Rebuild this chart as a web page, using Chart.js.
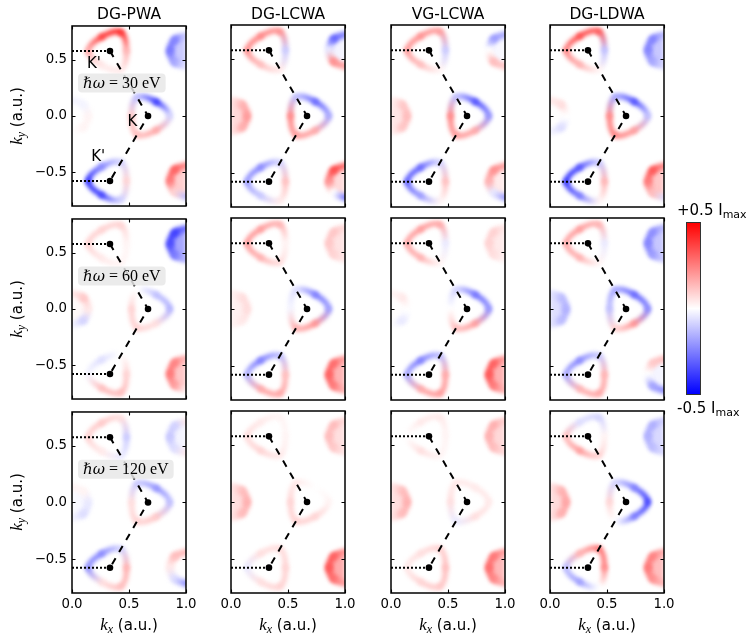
<!DOCTYPE html>
<html>
<head>
<meta charset="utf-8">
<script src="https://cdn.jsdelivr.net/npm/chart.js@4.4.1/dist/chart.umd.min.js"></script>
<style>
  body { margin: 0; background: #fff; }
  #wrap { position: relative; width: 747px; height: 642px; overflow: hidden; font-family: 'DejaVu Sans', sans-serif; color: #000; }
  #wrap canvas { position: absolute; }
  .title { position: absolute; width: 160px; text-align: center; font-size: 15.5px; line-height: 20px; }
  .xlab, .ylab { position: absolute; width: 130px; text-align: center; font-size: 15px; line-height: 20px; white-space: nowrap; }
  .ylab { transform: rotate(-90deg); }
  .xlab i, .ylab i { font-family: 'Liberation Serif', serif; font-size: 17px; }
  .xlab sub, .ylab sub { font-family: 'Liberation Serif', serif; font-style: italic; font-size: 12px; vertical-align: -3px; line-height: 0; }
  #cbar { position: absolute; left: 686px; top: 222px; width: 13px; height: 171px; border: 1px solid #333;
          background: linear-gradient(to bottom, #ff0000, #ffffff, #0000ff); }
  .cblab { position: absolute; left: 677px; font-size: 15px; line-height: 20px; white-space: nowrap; }
  .cblab sub { font-size: 11px; vertical-align: -3px; line-height: 0; }
  .warm { position: absolute; left: -999px; top: 0; }
</style>
</head>
<body>
<div id="wrap"></div>
<span class="warm" style="font: italic 15px 'DejaVu Serif'">ℏω</span>
<span class="warm" style="font: 16px 'Liberation Serif'">= 30 eV</span>
<script>
// ---- data ----
const methods = ['DG-PWA', 'DG-LCWA', 'VG-LCWA', 'DG-LDWA'];
const photonEnergies = [30, 60, 120];
const xTicks = [0, 0.5, 1];
const yTicks = [-0.5, 0, 0.5];

// K' - K - K' path and the dotted guides
const kPath = [[0.333, 0.577], [0.667, 0], [0.333, -0.577]];
const topGuide = [[0, 0.577], [0.333, 0.577]];
const botGuide = [[0, -0.577], [0.333, -0.577]];
const valleyLabels = ["K'", 'K', "K'"];
const valleyLabelPos = [[0.193, 0.459], [0.53, -0.05], [0.23, -0.365]];
const energyBoxAt = [0.053, 0.294];

// contour shapes (kx, ky): trigonal contours round K', K, K' and arcs round the zone centres
const kpTopShape = [[0.143, 0.577], [0.261, 0.703], [0.428, 0.742], [0.478, 0.577], [0.428, 0.413], [0.261, 0.451]];
const kShape = [[0.857, 0], [0.739, 0.126], [0.572, 0.165], [0.522, 0], [0.572, -0.165], [0.739, -0.126]];
const kpBotShape = [[0.143, -0.577], [0.261, -0.451], [0.428, -0.413], [0.478, -0.577], [0.428, -0.742], [0.261, -0.703]];
const g0Shape = [[0, -0.14], [0.099, -0.099], [0.14, 0], [0.099, 0.099], [0, 0.14]];
const g1Shape = [[1, 0.717], [0.901, 0.676], [0.86, 0.577], [0.901, 0.478], [1, 0.437]];
const g2Shape = [[1, -0.437], [0.901, -0.478], [0.86, -0.577], [0.901, -0.676], [1, -0.717]];

// signed intensity along each contour, in units of 0.5 Imax, [row][column][point]
const kpTopI = [
  [[0.4, 0.85, 0.95, 0.35, 0.1, 0.1], [0.5, 0.55, 0.5, -0.25, 0.1, 0.3], [0.45, 0.5, 0.45, -0.25, 0.05, 0.3], [0.55, 0.8, 0.75, -0.3, 0.05, 0.35]],
  [[0.2, 0.2, 0.2, 0.05, 0.05, 0.1], [0.45, 0.45, 0.35, 0.05, 0.15, 0.35], [0.4, 0.45, 0.4, -0.1, 0.05, 0.35], [0.4, 0.45, 0.35, -0.1, 0.05, 0.35]],
  [[0.2, 0.25, 0.15, -0.25, -0.1, 0.1], [0.15, 0.1, 0.05, 0.05, 0.1, 0.2], [0.0, 0.1, 0.1, 0.05, 0.05, 0.15], [0.3, -0.15, -0.2, 0.05, 0.2, 0.45]]
];
const kI = [
  [[-0.2, -0.9, -0.3, 0.25, 0.3, 0.4], [-0.4, -0.7, -0.3, 0.55, 0.45, 0.4], [-0.5, -0.8, -0.3, 0.55, 0.45, 0.4], [-0.3, -0.8, -0.4, 0.55, 0.55, 0.45]],
  [[-0.35, -0.3, 0.0, 0.2, 0.2, 0.15], [-0.45, -0.6, -0.15, -0.05, 0.35, 0.5], [-0.5, -0.65, -0.2, 0.0, 0.3, 0.45], [-0.55, -0.7, -0.4, -0.3, 0.2, 0.5]],
  [[-0.3, -0.5, -0.25, 0.15, 0.2, 0.25], [0.05, 0.0, 0.1, 0.2, 0.2, 0.2], [0.1, 0.1, 0.1, 0.15, -0.1, 0.15], [-0.85, -0.6, -0.2, 0.2, 0.0, -0.6]]
];
const kpBotI = [
  [[-0.9, -0.55, -0.2, 0.2, -0.2, -0.85], [-0.45, -0.55, -0.2, 0.3, 0.1, -0.25], [-0.7, -0.7, -0.2, 0.3, 0.05, -0.45], [-0.9, -0.8, -0.25, 0.35, 0.05, -0.6]],
  [[-0.05, -0.15, 0.0, 0.2, 0.3, 0.3], [-0.35, -0.6, -0.3, 0.3, 0.4, 0.4], [-0.4, -0.6, -0.3, 0.4, 0.45, 0.4], [-0.4, -0.55, -0.25, 0.35, 0.4, 0.35]],
  [[-0.5, -0.55, -0.2, 0.35, 0.3, 0.15], [-0.1, 0.15, 0.15, 0.2, 0.2, 0.15], [0.1, 0.15, 0.2, 0.3, 0.25, 0.2], [-0.3, 0.35, 0.6, 0.55, 0.0, -0.45]]
];
const g0I = [
  [[0, 0.05, 0.05, -0.05, -0.05], [0.1, 0.35, 0.45, 0.35, 0.1], [0.05, 0.25, 0.3, 0.25, 0.05], [-0.05, -0.15, 0.0, 0.15, 0.1]],
  [[-0.05, -0.2, 0.1, 0.25, 0.1], [0.05, 0.1, 0.15, 0.15, 0.05], [0, -0.1, 0.0, 0.1, 0.05], [-0.1, -0.3, -0.35, -0.3, -0.1]],
  [[-0.05, -0.15, -0.1, 0.05, 0.05], [0.1, 0.3, 0.35, 0.3, 0.1], [0.1, 0.3, 0.35, 0.3, 0.1], [0.1, 0.35, 0.4, 0.35, 0.1]]
];
const g1I = [
  [[-0.2, -0.55, -0.6, -0.4, -0.1], [-0.5, -0.7, -0.1, 0.5, 0.4], [-0.35, -0.45, 0.0, 0.3, 0.25], [-0.3, -0.55, -0.55, -0.4, -0.15]],
  [[-0.6, -0.85, -0.8, -0.6, -0.3], [0.15, 0.25, 0.25, 0.2, 0.1], [0.1, 0.2, 0.2, 0.15, 0.05], [-0.3, -0.5, -0.55, -0.45, -0.2]],
  [[0.1, -0.2, -0.25, -0.15, 0.1], [0.15, 0.3, 0.3, 0.25, 0.1], [0.2, 0.35, 0.35, 0.3, 0.15], [-0.2, -0.35, -0.35, -0.3, -0.15]]
];
const g2I = [
  [[0.5, 0.7, 0.6, 0.2, -0.3], [0.6, 0.8, 0.5, 0.0, -0.6], [0.4, 0.5, 0.35, -0.1, -0.45], [0.5, 0.75, 0.6, 0.3, -0.15]],
  [[0.3, 0.55, 0.6, 0.45, 0.05], [0.4, 0.65, 0.7, 0.6, 0.3], [0.4, 0.7, 0.75, 0.6, 0.3], [0.3, 0.25, 0.0, -0.4, -0.5]],
  [[0.3, 0.3, 0.1, -0.15, -0.5], [0.45, 0.7, 0.75, 0.65, 0.4], [0.4, 0.6, 0.65, 0.55, 0.3], [0.35, 0.55, 0.6, 0.5, 0.3]]
];

// ---- layout ----
const colX = [72, 231, 391, 550];
const rowY = [25, 218, 411];
const PW = 114, PH = 182;
const BLUR = 2.3, TICK = 3.5, SAT = 0.88;
const TAG_FONT_A = 'italic 15px "DejaVu Serif"';
const TAG_FONT_B = '16px "Liberation Serif"';

Chart.defaults.font.family = "'DejaVu Sans', sans-serif";
Chart.defaults.font.size = 13.3;
Chart.defaults.color = '#000';

// matplotlib "bwr": blue - white - red
function bwr(t) {
  t = Math.max(-1, Math.min(1, t));
  const f = Math.round(255 * (1 - Math.abs(t)));
  return t >= 0 ? `rgb(255,${f},${f})` : `rgb(${f},${f},255)`;
}

const pts = arr => arr.map(([x, y]) => ({ x, y }));

function segColor(c) {
  const ds = c.chart.data.datasets[c.datasetIndex];
  // closed contours carry one wrap point at each end; those segments only shape the curve
  if (ds.loop && (c.p0DataIndex === 0 || c.p1DataIndex === ds.data.length - 1)) return 'rgba(0,0,0,0)';
  const g = c.chart.ctx.createLinearGradient(c.p0.x, c.p0.y, c.p1.x, c.p1.y);
  g.addColorStop(0, bwr(SAT * ds.vals[c.p0DataIndex]));
  g.addColorStop(1, bwr(SAT * ds.vals[c.p1DataIndex]));
  return g;
}

function blobSet(shape, vals, closed, width) {
  let order = shape.map((_, i) => i);
  if (closed) order = [shape.length - 1, ...order, 0, 1];
  return {
    data: order.map(i => ({ x: shape[i][0], y: shape[i][1] })),
    vals: order.map(i => vals[i]),
    loop: closed, blob: true, ring: !closed,
    borderWidth: width, borderColor: '#fff', tension: closed ? 0.4 : 0.45,
    borderCapStyle: 'round', borderJoinStyle: 'round',
    pointRadius: 0, fill: false, clip: 0,
    segment: { borderColor: segColor }
  };
}

// blur the intensity bands, and give the zone-centre arcs a faint filled body
const softBands = {
  id: 'softBands',
  beforeDatasetDraw(chart, args) {
    const ds = chart.data.datasets[args.index];
    if (!ds.blob) return;
    const ctx = chart.ctx, a = chart.chartArea;
    ctx.save();
    ctx.filter = `blur(${BLUR}px)`;
    if (ds.ring) {
      const mean = ds.vals.reduce((s, v) => s + v, 0) / ds.vals.length;
      const p = args.meta.data;
      ctx.save();
      ctx.beginPath();
      ctx.rect(a.left, a.top, a.right - a.left, a.bottom - a.top);
      ctx.clip();
      ctx.beginPath();
      ctx.moveTo(p[0].x, p[0].y);
      for (let i = 1; i < p.length; i++) {
        ctx.bezierCurveTo(p[i - 1].cp2x, p[i - 1].cp2y, p[i].cp1x, p[i].cp1y, p[i].x, p[i].y);
      }
      ctx.closePath();
      ctx.fillStyle = bwr(mean * 0.55);
      ctx.fill();
      ctx.restore();
    }
  },
  afterDatasetDraw(chart, args) {
    if (chart.data.datasets[args.index].blob) chart.ctx.restore();
  }
};

// frame with inward ticks on all four sides
const frame = {
  id: 'frame',
  afterDraw(chart) {
    const { ctx, chartArea: a, scales: { x, y } } = chart;
    ctx.save();
    ctx.strokeStyle = '#000';
    ctx.lineWidth = 1.1;
    ctx.beginPath();
    xTicks.forEach(v => {
      const px = Math.round(x.getPixelForValue(v)) + 0.5;
      ctx.moveTo(px, a.bottom); ctx.lineTo(px, a.bottom - TICK);
      ctx.moveTo(px, a.top); ctx.lineTo(px, a.top + TICK);
    });
    yTicks.forEach(v => {
      const py = Math.round(y.getPixelForValue(v)) + 0.5;
      ctx.moveTo(a.left, py); ctx.lineTo(a.left + TICK, py);
      ctx.moveTo(a.right, py); ctx.lineTo(a.right - TICK, py);
    });
    ctx.stroke();
    ctx.lineWidth = 1.5;
    ctx.strokeRect(a.left, a.top, a.right - a.left, a.bottom - a.top);
    ctx.restore();
  }
};

// photon energy tag and valley names in the first column
const notes = {
  id: 'notes',
  afterDatasetsDraw(chart, _args, opts) {
    if (!opts.energy) return;
    const { ctx, scales: { x, y } } = chart;
    const left = x.getPixelForValue(energyBoxAt[0]);
    const cy = y.getPixelForValue(energyBoxAt[1]);
    const a = 'ℏω', b = ` = ${opts.energy} eV`;
    ctx.save();
    ctx.font = TAG_FONT_A; const wa = ctx.measureText(a).width;
    ctx.font = TAG_FONT_B; const wb = ctx.measureText(b).width;
    ctx.fillStyle = 'rgba(232,232,232,0.85)';
    ctx.beginPath();
    ctx.roundRect(left, cy - 9.5, wa + wb + 10, 19, 4);
    ctx.fill();
    ctx.fillStyle = '#000';
    ctx.textBaseline = 'middle';
    ctx.font = TAG_FONT_A; ctx.fillText(a, left + 5, cy + 1);
    ctx.font = TAG_FONT_B; ctx.fillText(b, left + 5 + wa, cy + 1);
    if (opts.labels) {
      ctx.font = '15px "DejaVu Sans"';
      ctx.textAlign = 'center';
      valleyLabels.forEach((t, i) => {
        ctx.fillText(t, x.getPixelForValue(valleyLabelPos[i][0]), y.getPixelForValue(valleyLabelPos[i][1]));
      });
    }
    ctx.restore();
  }
};

const wrap = document.getElementById('wrap');
const charts = [];

function addDiv(cls, html, css) {
  const d = document.createElement('div');
  d.className = cls;
  d.innerHTML = html;
  Object.assign(d.style, css);
  wrap.appendChild(d);
}

function build() {
  photonEnergies.forEach((energy, r) => {
    methods.forEach((name, c) => {
      const padL = c === 0 ? 72 : 24, padR = 24, padT = 12, padB = r === 2 ? 48 : 12;
      const cv = document.createElement('canvas');
      cv.width = PW + padL + padR;
      cv.height = PH + padT + padB;
      cv.style.left = (colX[c] - padL) + 'px';
      cv.style.top = (rowY[r] - padT) + 'px';
      wrap.appendChild(cv);

      const datasets = [
        { data: pts(kPath), showLine: false, pointRadius: 3.3, pointBackgroundColor: '#000', pointBorderWidth: 0, clip: 0 },
        { data: pts(kPath), borderColor: '#000', borderWidth: 2, borderDash: [7, 7], pointRadius: 0, clip: 0 },
        { data: pts(topGuide), borderColor: '#000', borderWidth: 2, borderDash: [2, 2], pointRadius: 0, clip: 0 },
        { data: pts(botGuide), borderColor: '#000', borderWidth: 2, borderDash: [2, 2], pointRadius: 0, clip: 0 },
        blobSet(kpTopShape, kpTopI[r][c], true, 5.5),
        blobSet(kShape, kI[r][c], true, 5.5),
        blobSet(kpBotShape, kpBotI[r][c], true, 5.5),
        blobSet(g0Shape, g0I[r][c], false, 7),
        blobSet(g1Shape, g1I[r][c], false, 7),
        blobSet(g2Shape, g2I[r][c], false, 7)
      ];

      charts.push(new Chart(cv, {
        type: 'line',
        data: { datasets },
        options: {
          responsive: false,
          animation: false,
          events: [],
          layout: { padding: { left: 0, right: padR, top: padT, bottom: 0 } },
          elements: { line: { capBezierPoints: false } },
          scales: {
            x: {
              type: 'linear', min: 0, max: 1,
              grid: { display: false, drawTicks: false }, border: { display: false },
              afterBuildTicks: s => { s.ticks = xTicks.map(value => ({ value })); },
              afterFit: s => { s.height = padB; },
              ticks: { display: r === 2, padding: 4, callback: v => v.toFixed(1) }
            },
            y: {
              type: 'linear', min: -0.8, max: 0.8,
              grid: { display: false, drawTicks: false }, border: { display: false },
              afterBuildTicks: s => { s.ticks = yTicks.map(value => ({ value })); },
              afterFit: s => { s.width = padL; },
              ticks: { display: c === 0, padding: 5, callback: v => v.toFixed(1).replace('-', '\u2212') }
            }
          },
          plugins: {
            legend: { display: false },
            tooltip: { enabled: false },
            notes: { energy: c === 0 ? energy : 0, labels: c === 0 && r === 0 }
          }
        },
        plugins: [softBands, frame, notes]
      }));

      if (r === 0) addDiv('title', name, { left: (colX[c] + PW / 2 - 80) + 'px', top: '4px' });
      if (r === 2) addDiv('xlab', '<i>k</i><sub>x</sub> (a.u.)', { left: (colX[c] + PW / 2 - 65) + 'px', top: '615px' });
    });
    addDiv('ylab', '<i>k</i><sub>y</sub> (a.u.)', { left: (17 - 65) + 'px', top: (rowY[r] + PH / 2 - 10) + 'px' });
  });

  const cb = document.createElement('div');
  cb.id = 'cbar';
  wrap.appendChild(cb);
  addDiv('cblab', '+0.5 I<sub>max</sub>', { top: '200px' });
  addDiv('cblab', '-0.5 I<sub>max</sub>', { top: '398px' });

  // redraw once more so canvas text picks up fonts that finished loading late
  setTimeout(() => charts.forEach(ch => ch.draw()), 60);
}

// touch the tag fonts on a scratch canvas first, then build on the next frames
const scratch = document.createElement('canvas').getContext('2d');
[TAG_FONT_A, TAG_FONT_B, '15px "DejaVu Sans"'].forEach(f => { scratch.font = f; scratch.fillText('ℏω = 30 eV', 0, 10); });
document.fonts.ready.then(() => requestAnimationFrame(() => requestAnimationFrame(build)));
</script>
</body>
</html>
